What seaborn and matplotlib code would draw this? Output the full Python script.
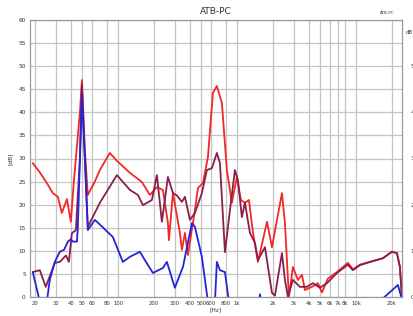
import numpy as np
import pandas as pd
import matplotlib
matplotlib.use("Agg")
import matplotlib.pyplot as plt
from matplotlib.ticker import FixedLocator, NullLocator
import seaborn as sns

# frequency response curves (Hz, dB)
red_freq = [19.2, 22, 25.2, 28.3, 31.2, 33.7, 37.2, 40.1, 42.5, 47.8, 49.7, 52.6, 55.7,
            63.8, 70.3, 85.3, 97.7, 125.7, 158.6, 185, 211.9, 238.2, 262.4, 267.5, 289,
            330.7, 343.8, 364.7, 386.3, 442.2, 469, 516.6, 568.8, 626.4, 676.2, 745.2,
            821, 904, 996, 1077, 1164, 1257, 1359, 1497, 1783, 1963, 2382, 2524, 2724,
            2945, 3245, 3507, 3716, 4256, 4777, 5165, 5797, 6904, 8535, 9400, 10770,
            13060, 16800, 20000, 22040, 23340, 24270]
red_db = [29, 27, 24.7, 22.5, 21.7, 18.2, 21.2, 16.3, 25, 40, 47, 32, 22.1,
          25, 27.5, 31.2, 29.5, 26.9, 24.9, 22.1, 23.8, 23.2, 16, 12.3, 22.5,
          13.9, 10.2, 13.9, 9.1, 18.8, 23.6, 24.7, 30.3, 44.2, 45.7, 42,
          27.5, 20.4, 26, 21, 20.4, 21, 14, 7.6, 16.3, 10.8, 22.5, 16, 0,
          6.5, 3.7, 4.8, 1.5, 2.2, 3, 1, 4, 5.4, 7.4, 6, 7,
          7.6, 8.4, 9.8, 9.5, 6.5, 0]

maroon_freq = [19.2, 22, 24.7, 29.4, 32.4, 36.5, 38.6, 40.9, 44.2, 47.8, 49.7, 52.6, 55.7,
               70.3, 97.7, 125.7, 146.8, 161.8, 192.3, 211.9, 233.5, 262.4, 289, 312,
               343.8, 364.7, 401.6, 442.2, 506, 557.5, 614, 676.2, 717.8, 790.8, 871,
               959.4, 1016, 1097, 1164, 1282, 1413, 1497, 1715, 1963, 2080, 2382, 2524,
               2674, 2945, 3373, 3863, 4337, 4967, 5690, 6904, 8535, 9400, 10770, 13060,
               16800, 20000, 22040, 23340, 24270]
maroon_db = [5.4, 5.8, 2.2, 7.4, 7.6, 9, 7.6, 13.8, 14.5, 30, 46, 30, 15.2,
             20.4, 26.4, 23.2, 22.1, 19.9, 21, 26.4, 16.3, 26, 22.5, 22,
             20.6, 21.7, 16.7, 18.2, 22.5, 27.5, 27.9, 31.2, 29, 9.7, 18.8,
             27.5, 25.3, 17.3, 20.4, 13.9, 11.7, 8, 10.8, 0.9, 0.3, 9.5, 3.7,
             0, 3.7, 2.2, 2.2, 3, 2, 3, 5.2, 7, 5.8, 6.9, 7.6,
             8.4, 9.8, 9.5, 6.5, 0]

blue_freq = [19.2, 22, 25.2, 26.7, 29.4, 32.4, 35.1, 37.9, 40.1, 41.7, 45.1, 45.9, 49.7,
             52.6, 55.7, 63.8, 66.4, 90.4, 109.7, 125.7, 152.5, 168, 196.3, 238.2, 257.2,
             300, 350.8, 417, 442.2, 506, 568.8, 651.7, 676.2, 717.8, 790.8, 853.2,
             1000, 1500, 1556, 1610, 5000, 16480, 22450, 24270]
blue_db = [5.4, -1, -1, 3.7, 7.6, 9.8, 10.2, 12, 12.5, 12, 12, 15, 44,
           30, 14.5, 16.7, 16.3, 13, 7.6, 8.7, 9.8, 8, 5.2, 6.3, 7.6,
           2.0, 6.5, 16, 15.2, 8.7, -1, -1, 7.6, 5.8, 5.4, -1,
           -3, -2, 0.6, -2, -3, -0.5, 2.6, -0.5]

tick_freqs = [20, 30, 40, 50, 60, 80, 100, 200, 300, 400, 500, 600, 800, 1000,
              2000, 3000, 4000, 5000, 6000, 7000, 8000, 10000, 20000]
tick_labels = ["20", "30", "40", "50", "60", "80", "100", "200", "300", "400", "500",
               "600", "800", "1k", "2k", "3k", "4k", "5k", "6k", "7k", "8k", "10k", "20k"]

sns.set_style("white")
plt.rcParams['font.family'] = ['DejaVu Sans']

fig = plt.figure(figsize=(4.14, 3.16), dpi=100)
ax = fig.add_axes([30 / 414, 19 / 316, 372 / 414, 277 / 316])

sns.lineplot(x=red_freq, y=red_db, color="#f02828", lw=1.3, sort=False, estimator=None, ax=ax)
sns.lineplot(x=maroon_freq, y=maroon_db, color="#8a1e4c", lw=1.3, sort=False, estimator=None, ax=ax)
sns.lineplot(x=blue_freq, y=blue_db, color="#2424d8", lw=1.3, sort=False, estimator=None, ax=ax)

ax.set_xscale("log")
ax.set_xlim(18.2, 24300)
ax.set_ylim(0, 60)
ax.xaxis.set_major_locator(FixedLocator(tick_freqs))
ax.xaxis.set_minor_locator(NullLocator())
ax.set_xticklabels(tick_labels)
ax.set_yticks(np.arange(0, 61, 5))
ax.grid(True, color="#c4c4c4", lw=0.9)
ax.tick_params(axis="y", length=0, labelsize=4.2, colors="#333333", pad=3)
ax.tick_params(axis="x", length=0, labelsize=3.8, colors="#333333", pad=3)
for s in ax.spines.values():
    s.set_color("#9a9a9a")
    s.set_linewidth(0.9)

ax.set_xlabel("[Hz]", fontsize=4.2, color="#333333", labelpad=0.5)
ax.set_ylabel("[dB]", fontsize=4.2, color="#333333", labelpad=4)
ax.set_title("ATB-PC", fontsize=6.5, color="#333333", pad=4)
fig.text(387 / 414, 1 - 13 / 316, "ATB-PC", fontsize=3, color="#333333", ha="center", va="center")

# right-hand secondary scale (cut off at the image edge)
ax2 = ax.twinx()
ax2.set_ylim(0, 6)
ax2.set_yticks([0, 1, 2, 3, 4, 5])
ax2.tick_params(length=0, labelsize=4.2, colors="#333333", pad=6)
for s in ax2.spines.values():
    s.set_visible(False)
fig.text(406 / 414, 1 - 32 / 316, "dB", fontsize=4, color="#333333", ha="left", va="center")

fig.savefig("out.png", dpi=100, facecolor="white")
